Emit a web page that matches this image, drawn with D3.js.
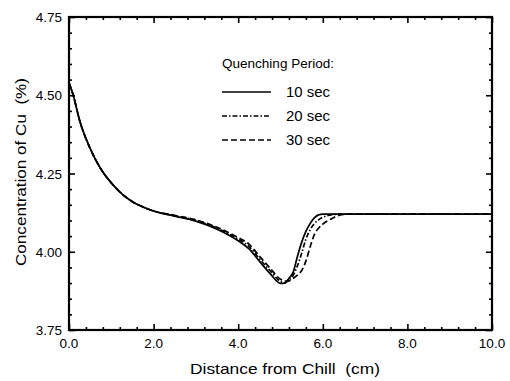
<!DOCTYPE html>
<html>
<head>
<meta charset="utf-8">
<script src="https://cdn.jsdelivr.net/npm/d3@7"></script>
<style>
  body { margin: 0; background: #fff; }
  text { font-family: "Liberation Sans", Arial, Helvetica, sans-serif; fill: #000; white-space: pre; }
</style>
</head>
<body>
<svg id="chart"></svg>
<script>
// distance from chill (cm) and Cu concentration (%) for each quenching period
const xs10 = [0, 0.1, 0.25, 0.5, 0.75, 1.0, 1.25, 1.5, 1.75, 2.0, 2.5, 3.0, 3.5, 4.0, 4.25, 4.5, 4.75, 5.0, 5.1, 5.2, 5.3, 5.4, 5.5, 5.6, 5.7, 5.8, 5.9, 6.0, 7.0, 8.0, 9.0, 10.0]
const ys10 = [4.54, 4.50, 4.42, 4.33, 4.265, 4.22, 4.185, 4.16, 4.143, 4.13, 4.114, 4.098, 4.072, 4.035, 4.01, 3.97, 3.931, 3.899, 3.90, 3.915, 3.935, 3.985, 4.03, 4.065, 4.09, 4.108, 4.118, 4.12, 4.12, 4.12, 4.12, 4.12]

const xs20 = [0, 0.1, 0.25, 0.5, 0.75, 1.0, 1.25, 1.5, 1.75, 2.0, 2.5, 3.0, 3.5, 4.0, 4.25, 4.5, 4.75, 5.0, 5.1, 5.2, 5.3, 5.4, 5.5, 5.6, 5.7, 5.8, 5.9, 6.0, 6.2, 6.4, 7.0, 8.0, 9.0, 10.0]
const ys20 = [4.54, 4.50, 4.42, 4.33, 4.265, 4.22, 4.185, 4.16, 4.143, 4.13, 4.115, 4.10, 4.075, 4.04, 4.018, 3.978, 3.94, 3.905, 3.90, 3.91, 3.925, 3.955, 3.995, 4.04, 4.07, 4.09, 4.102, 4.11, 4.118, 4.12, 4.12, 4.12, 4.12, 4.12]

const xs30 = [0, 0.1, 0.25, 0.5, 0.75, 1.0, 1.25, 1.5, 1.75, 2.0, 2.5, 3.0, 3.5, 4.0, 4.25, 4.5, 4.75, 5.0, 5.1, 5.2, 5.3, 5.4, 5.5, 5.6, 5.7, 5.8, 5.9, 6.0, 6.2, 6.4, 6.6, 7.0, 8.0, 9.0, 10.0]
const ys30 = [4.54, 4.50, 4.42, 4.33, 4.265, 4.22, 4.185, 4.16, 4.143, 4.13, 4.116, 4.102, 4.078, 4.045, 4.025, 3.986, 3.948, 3.912, 3.906, 3.907, 3.915, 3.925, 3.94, 3.97, 4.015, 4.055, 4.075, 4.088, 4.105, 4.117, 4.12, 4.12, 4.12, 4.12, 4.12]

const seriesNames = ['10 sec', '20 sec', '30 sec']
const dashes = [null, '5,2,1.5,2', '6,3']

const xTicks = [0, 2, 4, 6, 8, 10]
const yTicks = [3.75, 4.00, 4.25, 4.50, 4.75]

const WIDTH = 510
const HEIGHT = 381
const LEFT = 69, RIGHT = 492, TOP = 17, BOTTOM = 330

const svg = d3.select('#chart')
  .attr('width', WIDTH)
  .attr('height', HEIGHT)

const x = d3.scaleLinear().domain([0, 10]).range([LEFT, RIGHT])
const y = d3.scaleLinear().domain([3.75, 4.75]).range([BOTTOM, TOP])

const minorX = d3.range(0, 10.001, 0.4).filter(v => Math.abs(v / 2 - Math.round(v / 2)) > 0.01)
const minorY = d3.range(3.75, 4.7501, 0.05).filter(v => Math.abs(v * 4 - Math.round(v * 4)) > 0.01)

// frame
svg.append('rect')
  .attr('x', LEFT).attr('y', TOP)
  .attr('width', RIGHT - LEFT).attr('height', BOTTOM - TOP)
  .attr('fill', 'none').attr('stroke', '#000').attr('stroke-width', 2.2)

// inward ticks on all four sides
function ticks(g, axisFn, scale, vals, len) {
  g.call(axisFn(scale).tickValues(vals).tickSize(len).tickFormat(''))
  g.select('.domain').remove()
  g.selectAll('line').attr('stroke', '#000').attr('stroke-width', 1.6)
}
svg.append('g').attr('transform', `translate(0,${BOTTOM})`).call(g => ticks(g, d3.axisTop, x, xTicks, 6))
svg.append('g').attr('transform', `translate(0,${BOTTOM})`).call(g => ticks(g, d3.axisTop, x, minorX, 3))
svg.append('g').attr('transform', `translate(0,${TOP})`).call(g => ticks(g, d3.axisBottom, x, xTicks, 6))
svg.append('g').attr('transform', `translate(0,${TOP})`).call(g => ticks(g, d3.axisBottom, x, minorX, 3))
svg.append('g').attr('transform', `translate(${LEFT},0)`).call(g => ticks(g, d3.axisRight, y, yTicks, 6))
svg.append('g').attr('transform', `translate(${LEFT},0)`).call(g => ticks(g, d3.axisRight, y, minorY, 3))
svg.append('g').attr('transform', `translate(${RIGHT},0)`).call(g => ticks(g, d3.axisLeft, y, yTicks, 6))
svg.append('g').attr('transform', `translate(${RIGHT},0)`).call(g => ticks(g, d3.axisLeft, y, minorY, 3))

// tick labels
svg.append('g').selectAll('text')
  .data(xTicks).enter().append('text')
  .attr('x', d => x(d)).attr('y', BOTTOM + 18)
  .attr('text-anchor', 'middle')
  .style('font-size', '13.5px')
  .text(d => d.toFixed(1))

svg.append('g').selectAll('text')
  .data(yTicks).enter().append('text')
  .attr('x', LEFT - 7).attr('y', d => y(d) + 5)
  .attr('text-anchor', 'end')
  .style('font-size', '13.5px')
  .text(d => d.toFixed(2))

// axis titles
svg.append('text')
  .attr('x', 285).attr('y', 373.5)
  .attr('text-anchor', 'middle')
  .attr('textLength', 190)
  .attr('lengthAdjust', 'spacingAndGlyphs')
  .style('font-size', '14.5px')
  .text('Distance from Chill  (cm)')

svg.append('text')
  .attr('transform', 'translate(26,172) rotate(-90)')
  .attr('text-anchor', 'middle')
  .attr('textLength', 188)
  .attr('lengthAdjust', 'spacingAndGlyphs')
  .style('font-size', '15px')
  .text('Concentration of Cu  (%)')

// curves
const series = [
  xs10.map((v, i) => [v, ys10[i]]),
  xs20.map((v, i) => [v, ys20[i]]),
  xs30.map((v, i) => [v, ys30[i]])
]
const line = d3.line()
  .x(d => x(d[0]))
  .y(d => y(d[1]))
  .curve(d3.curveMonotoneX)

svg.append('g').selectAll('path')
  .data(series).enter().append('path')
  .attr('d', line)
  .attr('fill', 'none')
  .attr('stroke', '#000')
  .attr('stroke-width', 1.7)
  .attr('stroke-dasharray', (d, i) => dashes[i])

// legend
const legend = svg.append('g')
legend.append('text')
  .attr('x', 222).attr('y', 68)
  .attr('textLength', 112)
  .attr('lengthAdjust', 'spacingAndGlyphs')
  .style('font-size', '13.5px')
  .text('Quenching Period:')
const row = legend.selectAll('.row')
  .data(seriesNames).enter().append('g')
  .attr('class', 'row')
  .attr('transform', (d, i) => `translate(222,${92 + i * 24})`)
row.append('line')
  .attr('x1', 0).attr('x2', 49)
  .attr('stroke', '#000').attr('stroke-width', 1.7)
  .attr('stroke-dasharray', (d, i) => dashes[i])
row.append('text')
  .attr('x', 64).attr('y', 5)
  .attr('textLength', 44)
  .attr('lengthAdjust', 'spacingAndGlyphs')
  .style('font-size', '14px')
  .text(d => d)
</script>
</body>
</html>
